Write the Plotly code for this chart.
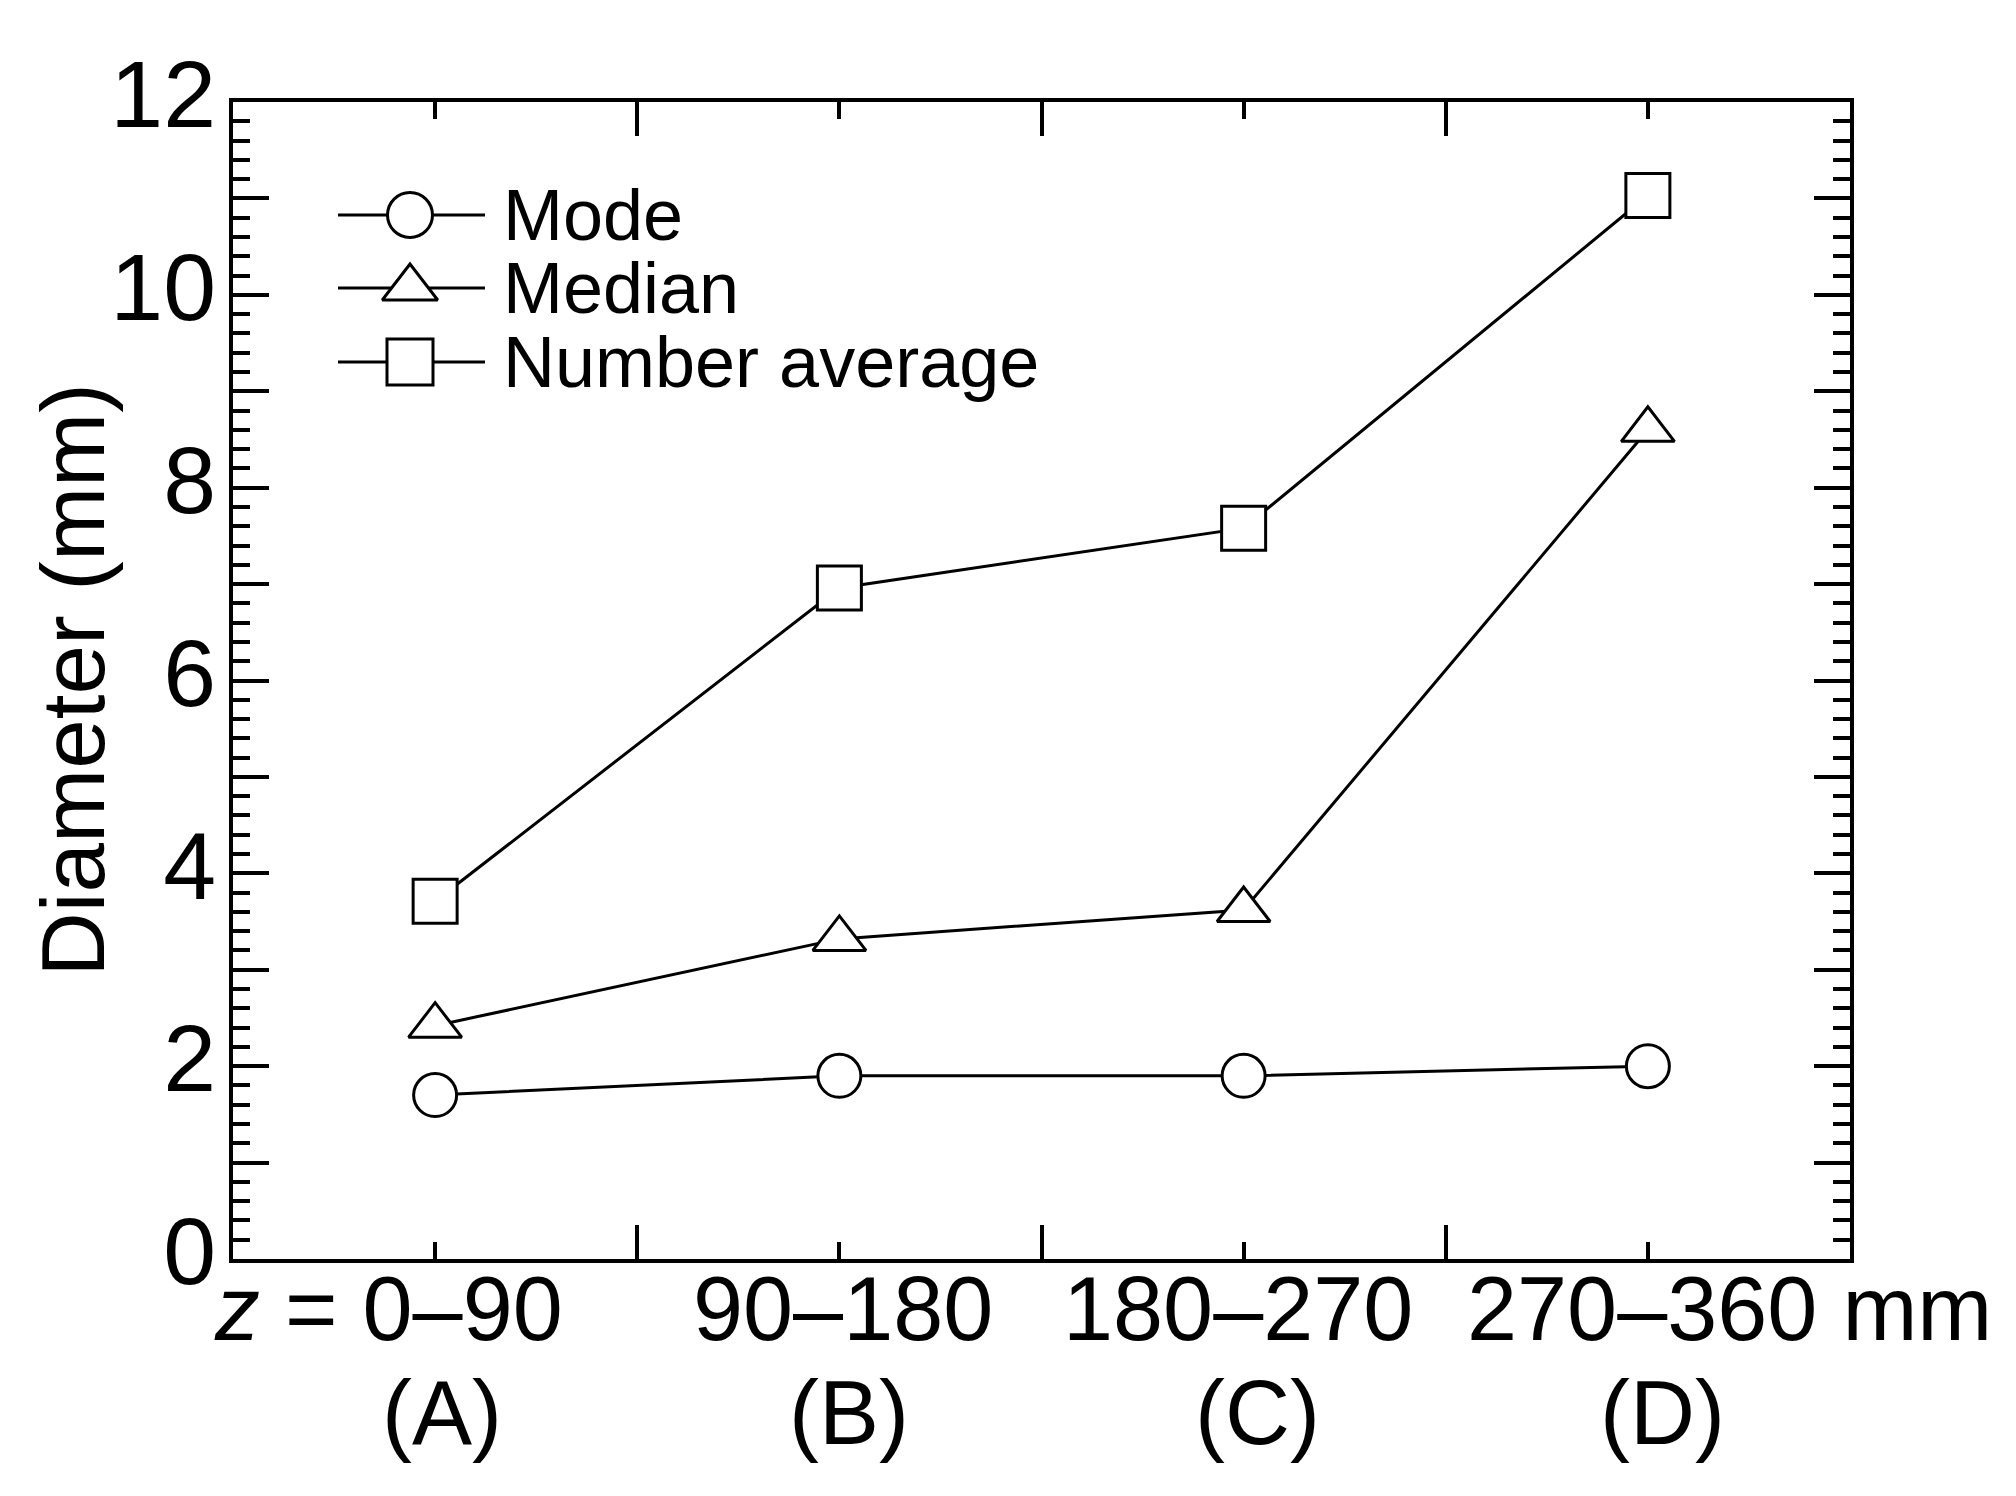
import plotly.graph_objects as go

# ---------------- data ----------------
categories = ["A", "B", "C", "D"]
range_labels = ["<i>z</i> = 0–90", "90–180", "180–270", "270–360 mm"]
group_labels = ["(A)", "(B)", "(C)", "(D)"]
mode_vals = [1.70, 1.90, 1.90, 2.00]
median_vals = [2.42, 3.32, 3.62, 8.60]
number_avg_vals = [3.71, 6.96, 7.58, 11.03]
y_tick_vals = list(range(0, 13))
y_tick_text = [str(v) if v % 2 == 0 else "" for v in y_tick_vals]

series_names = ["Mode", "Median", "Number average"]
series_values = [mode_vals, median_vals, number_avg_vals]

# ---------------- style / layout geometry (window pixels) ----------------
series_symbols = ["circle", "triangle-up", "square"]
series_sizes = [43, 46, 44]

FONT = "Liberation Sans, Arial, sans-serif"
BODY = 8                      # default page body margin around the plot div
W, H = 2016 - 2 * BODY, 1496 - 2 * BODY
P_LEFT, P_TOP, P_RIGHT, P_BOTTOM = 233, 102, 1850, 1259
PW, PH = P_RIGHT - P_LEFT, P_BOTTOM - P_TOP
L, T = P_LEFT - BODY, P_TOP - BODY
R, B = W - L - PW, H - T - PH

MLINE = 3
LWIDTH = 3
x_pos = list(range(1, len(categories) + 1))

range_label_shift = [-47, 4, -6, 82]
group_label_shift = [7, 10, 14, 15]


def px_x(xx):
    return (xx - P_LEFT) / PW


def px_y(yy):
    return (P_BOTTOM - yy) / PH


fig = go.Figure()

for name, vals, sym, ms in zip(series_names, series_values,
                               series_symbols, series_sizes):
    fig.add_trace(go.Scatter(
        x=x_pos, y=vals, mode="lines+markers", name=name,
        line=dict(color="black", width=LWIDTH),
        marker=dict(symbol=sym, size=ms, color="white",
                    line=dict(color="black", width=MLINE)),
        showlegend=False, cliponaxis=False,
    ))

# ---------------- custom legend (on an overlay axis in plot fractions) ----
leg_x0, leg_x1 = px_x(338), px_x(485)
leg_xm = px_x(410)
leg_ys = [px_y(yy) for yy in (215, 288, 362)]
leg_text_x = px_x(501)
for name, sym, ms, ly in zip(series_names, series_symbols, series_sizes,
                             leg_ys):
    fig.add_trace(go.Scatter(
        x=[leg_x0, leg_x1], y=[ly, ly], mode="lines",
        line=dict(color="black", width=LWIDTH), xaxis="x2", yaxis="y2",
        showlegend=False, hoverinfo="skip",
    ))
    fig.add_trace(go.Scatter(
        x=[leg_xm], y=[ly], mode="markers",
        marker=dict(symbol=sym, size=ms + 2, color="white",
                    line=dict(color="black", width=MLINE)),
        xaxis="x2", yaxis="y2", showlegend=False, hoverinfo="skip",
    ))
    fig.add_annotation(
        x=leg_text_x, y=ly, xref="paper", yref="paper", text=name,
        showarrow=False, xanchor="left", yanchor="middle",
        font=dict(family=FONT, size=72, color="black"),
    )

# ---------------- x tick labels as annotations ----------------
for xp, t1, t2, s1, s2 in zip(x_pos, range_labels, group_labels,
                              range_label_shift, group_label_shift):
    fig.add_annotation(
        x=xp, y=px_y(1309), xref="x", yref="paper", text=t1,
        showarrow=False, xanchor="center", yanchor="middle", xshift=s1,
        font=dict(family=FONT, size=90, color="black"),
    )
    fig.add_annotation(
        x=xp, y=px_y(1413), xref="x", yref="paper", text=t2,
        showarrow=False, xanchor="center", yanchor="middle", xshift=s2,
        font=dict(family=FONT, size=90, color="black"),
    )

# y-axis title
fig.add_annotation(
    x=px_x(72), y=0.5, xref="paper", yref="paper",
    text="Diameter (mm)", textangle=-90, showarrow=False,
    xanchor="center", yanchor="middle",
    font=dict(family=FONT, size=89, color="black"),
)

axis_common = dict(
    showgrid=False, zeroline=False, showline=True, linecolor="black",
    linewidth=4, mirror="ticks", ticks="inside", tickcolor="black",
    tickwidth=3.5,
)

fig.update_layout(
    width=W, height=H,
    margin=dict(l=L, r=R, t=T, b=B, autoexpand=False),
    paper_bgcolor="white", plot_bgcolor="white",
    font=dict(family=FONT, color="black"),
    xaxis=dict(
        range=[0.5, 4.5], tickmode="array", tickvals=[1.5, 2.5, 3.5],
        ticklen=34, showticklabels=False,
        minor=dict(tickmode="array", tickvals=x_pos, ticklen=17,
                   ticks="inside", tickcolor="black", tickwidth=3.5,
                   showgrid=False),
        **axis_common,
    ),
    yaxis=dict(
        range=[0, 12], tickmode="array", tickvals=y_tick_vals,
        ticktext=y_tick_text, ticklen=36,
        tickfont=dict(family=FONT, size=95, color="black"),
        ticklabelstandoff=-6, ticklabelshift=-8,
        minor=dict(dtick=0.2, ticklen=17, ticks="inside",
                   tickcolor="black", tickwidth=3.5, showgrid=False),
        **axis_common,
    ),
    xaxis2=dict(range=[0, 1], overlaying="x", visible=False, fixedrange=True),
    yaxis2=dict(range=[0, 1], overlaying="y", visible=False, fixedrange=True),
    showlegend=False,
)

fig.write_html("out.html")
